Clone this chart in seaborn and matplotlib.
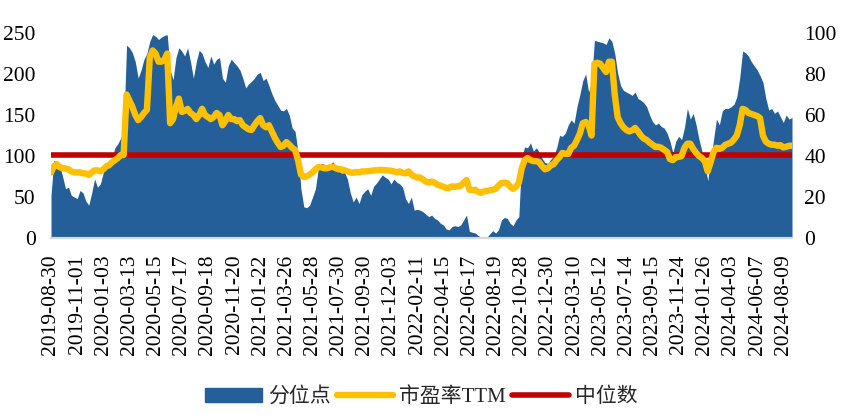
import matplotlib
matplotlib.use("Agg")
import matplotlib.pyplot as plt
from matplotlib.patches import Patch
from matplotlib.lines import Line2D
import seaborn as sns
import pandas as pd
import numpy as np

# ---- data ----
TICK_LABELS = ["2019-08-30", "2019-11-01", "2020-01-03", "2020-03-13", "2020-05-15",
               "2020-07-17", "2020-09-18", "2020-11-20", "2021-01-22", "2021-03-26",
               "2021-05-28", "2021-07-30", "2021-09-30", "2021-12-03", "2022-02-11",
               "2022-04-15", "2022-06-17", "2022-08-19", "2022-10-28", "2022-12-30",
               "2023-03-10", "2023-05-12", "2023-07-14", "2023-09-15", "2023-11-24",
               "2024-01-26", "2024-04-03", "2024-06-07", "2024-08-09"]
TICK_STEP = 9

percentile_pts = [
    52, 95, 92, 88, 75, 60, 62, 52, 50, 48,
    58, 55, 45, 40, 55, 72, 62, 66, 80, 90,
    93, 98, 110, 115, 122, 130, 235, 232, 226, 215,
    195, 205, 218, 225, 240, 248, 246, 242, 245, 247,
    248, 205, 193, 220, 232, 228, 222, 232, 215, 195,
    215, 229, 225, 215, 208, 222, 212, 218, 220, 195,
    190, 210, 218, 214, 210, 205, 195, 183, 188, 191,
    195, 200, 202, 192, 195, 186, 176, 168, 162, 156,
    155, 158, 150, 134, 130, 105, 60, 38, 37, 40,
    50, 60, 85, 91, 90, 88, 90, 93, 88, 82,
    79, 80, 72, 55, 44, 50, 42, 53, 57, 60,
    52, 63, 67, 72, 77, 74, 72, 66, 72, 68,
    66, 62, 48, 42, 50, 34, 35, 34, 32, 29,
    26, 28, 24, 22, 18, 16, 11, 10, 14, 15,
    14, 16, 22, 28, 8, 7, 6, 3, 1, 2,
    1, 5, 9, 6, 10, 22, 25, 24, 18, 15,
    22, 26, 100, 111, 110, 116, 106, 110, 105, 97,
    92, 91, 96, 100, 110, 125, 124, 128, 138, 144,
    140, 160, 175, 192, 200, 178, 190, 241, 240, 239,
    238, 236, 244, 240, 225, 201, 186, 180, 178, 176,
    174, 178, 170, 168, 165, 160, 150, 142, 138, 140,
    136, 134, 128, 118, 104, 118, 124, 120, 135, 158,
    145, 152, 138, 120, 106, 90, 70, 95, 120, 145,
    138, 155, 158, 158, 160, 163, 172, 195, 228, 226,
    222, 215, 210, 205, 198, 190, 170, 156, 158, 152,
    155, 148, 141, 150, 145, 147]

pe_ttm = [
    32, 35, 36, 34.5, 34, 34, 33.5, 32.5, 32, 32,
    32, 31.5, 31.5, 30.8, 32, 33, 33, 32.5, 33.5, 35,
    35.5, 37, 38, 39, 40.5, 40.5, 70, 67, 64, 60,
    57.5, 59, 61, 62.5, 88, 91.5, 90, 86, 86, 87,
    90, 56, 58, 64, 68, 61.5, 62, 63, 61, 60,
    58, 60, 63, 60, 59, 58, 59, 61, 60, 55,
    57, 60, 58, 58, 57, 57.5, 55, 54, 53, 52.7,
    55, 57, 58.5, 55, 54, 55, 52, 49, 46.5, 44.4,
    45, 46.8, 45.5, 44, 43, 38, 31, 29.8, 30, 31,
    32, 33.5, 34.6, 34.5, 34, 34, 34.5, 34.8, 34, 33.5,
    33.5, 33, 32.5, 32, 31.8, 32.2, 32, 32.5, 32.5, 32.6,
    32.7, 33, 33, 33.2, 33.2, 33, 33, 32.8, 32.5, 32,
    32.5, 31.8, 31.5, 32.5, 31, 30, 29.6, 29.5, 28.5, 27.5,
    27, 27.5, 27, 26, 25.5, 25, 24.4, 24.5, 25.2, 25,
    25.3, 25.5, 27, 28.3, 23.5, 23.4, 23.5, 22.5, 22, 22.7,
    23, 23.2, 23.5, 24, 25.5, 26.8, 27, 26.8, 25, 24,
    25, 27, 34, 38, 39, 38, 37.5, 37.5, 37, 35,
    33.5, 34, 35.5, 36, 38, 39.5, 41.5, 41, 41, 44,
    45, 47.8, 51, 56, 56.6, 55, 50, 85, 85.5, 85,
    83, 81, 86, 86, 70, 59, 56, 54, 52.7, 52,
    52.5, 53.7, 52, 50, 48.5, 47.8, 46.5, 45.5, 44.4, 44.5,
    44, 43, 42, 38.5, 38, 39.5, 39.5, 40, 44, 46,
    46, 43.5, 41.5, 40, 39, 37.5, 32.5, 37, 42, 44,
    43.5, 44, 45.4, 46, 46.5, 48, 50, 55, 63, 62.5,
    61, 60.5, 60, 59.5, 58.5, 50, 47, 46, 45.5, 45.5,
    45, 45.3, 44.2, 44.5, 45, 45]

MEDIAN = 40.3

LABEL_AREA = "分位点"
LABEL_PE = "市盈率TTM"
LABEL_MED = "中位数"

# ---- style ----
sns.set_style("white")
plt.rcParams['font.family'] = ['Liberation Serif', 'Noto Sans CJK SC', 'DejaVu Sans']

BLUE = "#245f99"
YELLOW = "#FFC000"
RED = "#C00000"

df = pd.DataFrame({"idx": np.arange(len(pe_ttm)), "area": percentile_pts, "pe": pe_ttm})

fig = plt.figure(figsize=(8.48, 4.15), dpi=100)
ax = fig.add_axes([51 / 848, 1 - 238 / 415, 741 / 848, 205 / 415])
ax.fill_between(df["idx"], 0, df["area"], color=BLUE, linewidth=0, zorder=1)
ax.set_ylim(0, 250)
ax.set_xlim(0, len(pe_ttm) - 1)
ax.set_yticks(range(0, 251, 50))

ax2 = ax.twinx()
ax2.axhline(MEDIAN, color=RED, linewidth=4.0, zorder=2)
sns.lineplot(data=df, x="idx", y="pe", ax=ax2, color=YELLOW, linewidth=4.6, zorder=3)
ax2.set_ylim(0, 100)
ax2.set_yticks(range(0, 101, 20))
ax2.set_xlim(0, len(pe_ttm) - 1)
ax2.set_ylabel("")
ax2.set_xlabel("")

ticks = [i * TICK_STEP for i in range(len(TICK_LABELS))]
ax.set_xticks(ticks)
ax.set_xticklabels(TICK_LABELS, rotation=90)

for a in (ax, ax2):
    for s in ("top", "left", "right"):
        a.spines[s].set_visible(False)
    a.spines["bottom"].set_color("#d9d9d9")
    a.spines["bottom"].set_linewidth(1.5)
    a.tick_params(axis="both", length=0, labelsize=15.5, colors="black")
ax.tick_params(axis="x", labelsize=15.5, pad=12)
ax.tick_params(axis="y", pad=11)
ax2.tick_params(axis="y", pad=9)
ax.set_xlabel("")
ax.set_ylabel("")

handles = [Patch(facecolor=BLUE, edgecolor=BLUE),
           Line2D([0], [0], color=YELLOW, linewidth=4.6, solid_capstyle="round"),
           Line2D([0], [0], color=RED, linewidth=4.0, solid_capstyle="round")]
fig.legend(handles, [LABEL_AREA, LABEL_PE, LABEL_MED], loc="center",
           bbox_to_anchor=(0.497, 0.043), ncol=3, frameon=False,
           fontsize=15, handlelength=2.7, handleheight=0.65, handletextpad=0.3,
           columnspacing=0.3)

fig.savefig("out.png", dpi=100)
